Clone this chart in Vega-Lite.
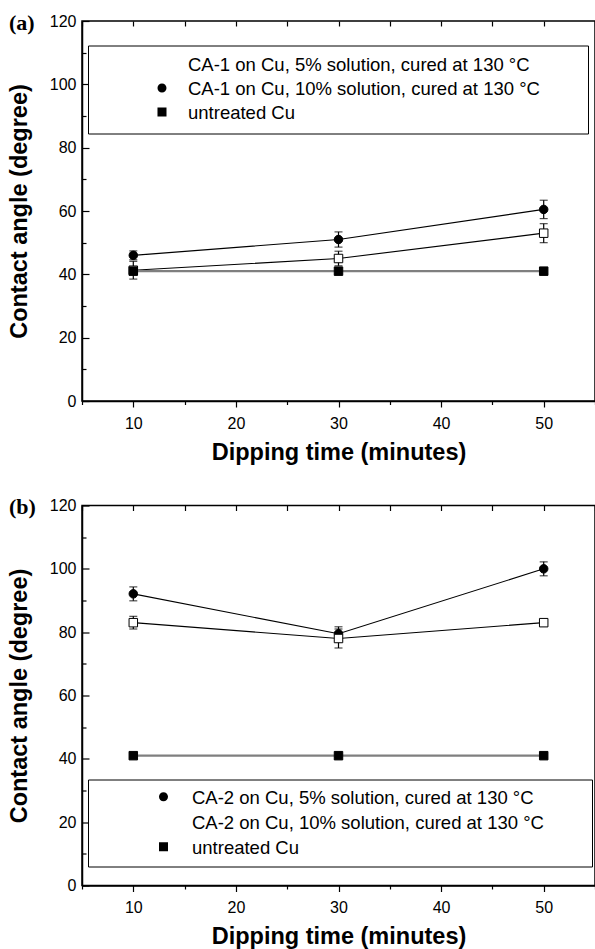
{
  "$schema": "https://vega.github.io/schema/vega-lite/v6.json",
  "background": "white",
  "padding": {"left": 6, "top": 11, "right": 0, "bottom": 0},
  "spacing": 29.5,
  "resolve": {"scale": {"shape": "independent", "fill": "independent", "x": "independent", "y": "independent"}, "legend": {"shape": "independent", "fill": "independent"}},
  "config": {
    "font": "Liberation Sans",
    "view": {"stroke": "black", "strokeWidth": 1.5},
    "axis": {"grid": false, "domainColor": "black", "domainWidth": 1.5, "tickColor": "black", "tickWidth": 1.2, "labelColor": "black", "labelFont": "Liberation Sans", "labelFontSize": 16, "titleColor": "black", "titleFont": "Liberation Sans", "titleFontSize": 23.5, "titleFontWeight": "bold", "labelFlush": false, "labelOverlap": false}
  },
  "vconcat": [
    {
      "title": {"text": "(a)", "anchor": "start", "frame": "group", "orient": "top", "offset": -23, "dx": -73, "dy": 16, "baseline": "alphabetic", "font": "Liberation Serif", "fontSize": 22, "fontWeight": "bold", "color": "black"},
      "width": 513,
      "height": 380,
      "data": {"values": [
        {"t": 10, "s": "CA-1 on Cu, 5% solution, cured at 130 °C", "y": 41.3, "e": 2.8},
        {"t": 30, "s": "CA-1 on Cu, 5% solution, cured at 130 °C", "y": 45.0, "e": 2.3},
        {"t": 50, "s": "CA-1 on Cu, 5% solution, cured at 130 °C", "y": 53.0, "e": 3.0},
        {"t": 10, "s": "CA-1 on Cu, 10% solution, cured at 130 °C", "y": 46.0, "e": 1.4},
        {"t": 30, "s": "CA-1 on Cu, 10% solution, cured at 130 °C", "y": 51.0, "e": 2.4},
        {"t": 50, "s": "CA-1 on Cu, 10% solution, cured at 130 °C", "y": 60.5, "e": 2.9},
        {"t": 10, "s": "untreated Cu", "y": 41.0, "e": 0.8},
        {"t": 30, "s": "untreated Cu", "y": 41.0, "e": 0.8},
        {"t": 50, "s": "untreated Cu", "y": 41.0, "e": 0.8}
      ]},
      "resolve": {"axis": {"x": "independent"}},
      "layer": [
        {
          "mark": {"type": "line"},
          "encoding": {
            "x": {"field": "t", "type": "quantitative", "scale": {"domain": [5, 55], "nice": false, "zero": false},
              "axis": {"orient": "bottom", "title": "Dipping time (minutes)", "values": [5, 10, 15, 20, 25, 30, 35, 40, 45, 50, 55], "labelExpr": "datum.value % 10 === 0 ? datum.label : ''", "tickSize": {"condition": {"test": "datum.value % 10 === 0", "value": 6}, "value": 3.5}, "labelPadding": 8, "titlePadding": 9}},
            "y": {"field": "y", "type": "quantitative", "scale": {"domain": [0, 120], "nice": false},
              "axis": {"title": "Contact angle (degree)", "values": [0, 10, 20, 30, 40, 50, 60, 70, 80, 90, 100, 110, 120], "labelExpr": "datum.value % 20 === 0 ? datum.label : ''", "tickSize": {"condition": {"test": "datum.value % 20 === 0", "value": -7}, "value": -4}, "labelPadding": 13, "titlePadding": 18}},
            "detail": {"field": "s", "type": "nominal"},
            "color": {"condition": {"test": "datum.s === 'untreated Cu'", "value": "#7f7f7f"}, "value": "black"},
            "strokeWidth": {"condition": {"test": "datum.s === 'untreated Cu'", "value": 2.2}, "value": 1.1}
          }
        },
        {
          "mark": {"type": "errorbar", "ticks": {"size": 8, "thickness": 1.2, "color": "black"}, "color": "black", "thickness": 1.2},
          "encoding": {
            "x": {"field": "t", "type": "quantitative", "axis": null},
            "y": {"field": "y", "type": "quantitative",
              "axis": {"title": "Contact angle (degree)", "values": [0, 10, 20, 30, 40, 50, 60, 70, 80, 90, 100, 110, 120], "labelExpr": "datum.value % 20 === 0 ? datum.label : ''", "tickSize": {"condition": {"test": "datum.value % 20 === 0", "value": -7}, "value": -4}, "labelPadding": 13, "titlePadding": 18}},
            "yError": {"field": "e"}
          }
        },
        {
          "mark": {"type": "point", "filled": true, "size": 72, "stroke": "black", "strokeWidth": 1, "opacity": 1},
          "encoding": {
            "x": {"field": "t", "type": "quantitative", "axis": {"orient": "top", "labels": false, "domain": false, "title": null, "values": [5, 10, 15, 20, 25, 30, 35, 40, 45, 50, 55], "tickSize": -5}},
            "y": {"field": "y", "type": "quantitative",
              "axis": {"title": "Contact angle (degree)", "values": [0, 10, 20, 30, 40, 50, 60, 70, 80, 90, 100, 110, 120], "labelExpr": "datum.value % 20 === 0 ? datum.label : ''", "tickSize": {"condition": {"test": "datum.value % 20 === 0", "value": -7}, "value": -4}, "labelPadding": 13, "titlePadding": 18}},
            "shape": {"condition": {"test": "datum.s === 'CA-1 on Cu, 10% solution, cured at 130 °C'", "value": "circle"}, "value": "square"},
            "fill": {"condition": {"test": "datum.s === 'CA-1 on Cu, 5% solution, cured at 130 °C'", "value": "white"}, "value": "black"}
          }
        },
        {
          "mark": {"type": "point", "filled": false, "opacity": 0, "color": "black", "stroke": "black", "strokeWidth": 1},
          "encoding": {
            "x": {"field": "t", "type": "quantitative", "axis": null},
            "y": {"field": "y", "type": "quantitative",
              "axis": {"title": "Contact angle (degree)", "values": [0, 10, 20, 30, 40, 50, 60, 70, 80, 90, 100, 110, 120], "labelExpr": "datum.value % 20 === 0 ? datum.label : ''", "tickSize": {"condition": {"test": "datum.value % 20 === 0", "value": -7}, "value": -4}, "labelPadding": 13, "titlePadding": 18}},
            "shape": {"field": "s", "type": "nominal",
              "scale": {"domain": ["CA-1 on Cu, 5% solution, cured at 130 °C", "CA-1 on Cu, 10% solution, cured at 130 °C", "untreated Cu"], "range": ["M0.023,-0.025H0.364M0.614,-0.025H0.932M0.386,-0.127H0.591V0.077H0.386Z", "M0.023,-0.025H0.364M0.614,-0.025H0.932M0.386,-0.025A0.102,0.102 0 1,0 0.591,-0.025A0.102,0.102 0 1,0 0.386,-0.025Z", "M0.023,-0.025H0.364M0.614,-0.025H0.932M0.386,-0.127H0.591V0.077H0.386Z"]},
              "legend": {"orient": "none", "legendX": 6, "legendY": 24.5, "title": " ", "titleOrient": "right", "titleFontSize": 1, "titlePadding": 40, "direction": "vertical", "strokeColor": "black", "fillColor": "white", "padding": 8, "symbolSize": 7744, "clipHeight": 23.3, "rowPadding": 0, "labelOffset": 3, "labelFontSize": 18.5, "labelFont": "Liberation Sans", "labelColor": "black", "labelLimit": 0, "symbolStrokeWidth": 1, "symbolStrokeColor": "black", "symbolOpacity": 1}},
            "fill": {"field": "s", "type": "nominal",
              "scale": {"domain": ["CA-1 on Cu, 5% solution, cured at 130 °C", "CA-1 on Cu, 10% solution, cured at 130 °C", "untreated Cu"], "range": ["white", "black", "black"]},
              "legend": {"orient": "none", "legendX": 6, "legendY": 24.5, "title": " ", "titleOrient": "right", "titleFontSize": 1, "titlePadding": 40, "direction": "vertical", "strokeColor": "black", "fillColor": "white", "padding": 8, "symbolSize": 7744, "clipHeight": 23.3, "rowPadding": 0, "labelOffset": 3, "labelFontSize": 18.5, "labelFont": "Liberation Sans", "labelColor": "black", "labelLimit": 0, "symbolStrokeWidth": 1, "symbolStrokeColor": "black", "symbolOpacity": 1}}
          }
        }
      ]
    },
    {
      "title": {"text": "(b)", "anchor": "start", "frame": "group", "orient": "top", "offset": -23, "dx": -73, "dy": 15, "baseline": "alphabetic", "font": "Liberation Serif", "fontSize": 22, "fontWeight": "bold", "color": "black"},
      "width": 513,
      "height": 380,
      "data": {"values": [
        {"t": 10, "s": "CA-2 on Cu, 5% solution, cured at 130 °C", "y": 92.1, "e": 2.2},
        {"t": 30, "s": "CA-2 on Cu, 5% solution, cured at 130 °C", "y": 79.5, "e": 2.2},
        {"t": 50, "s": "CA-2 on Cu, 5% solution, cured at 130 °C", "y": 100.0, "e": 2.2},
        {"t": 10, "s": "CA-2 on Cu, 10% solution, cured at 130 °C", "y": 83.0, "e": 2.0},
        {"t": 30, "s": "CA-2 on Cu, 10% solution, cured at 130 °C", "y": 78.0, "e": 3.0},
        {"t": 50, "s": "CA-2 on Cu, 10% solution, cured at 130 °C", "y": 83.0, "e": 1.0},
        {"t": 10, "s": "untreated Cu", "y": 41.0, "e": 0.6},
        {"t": 30, "s": "untreated Cu", "y": 41.0, "e": 0.6},
        {"t": 50, "s": "untreated Cu", "y": 41.0, "e": 0.6}
      ]},
      "resolve": {"axis": {"x": "independent"}},
      "layer": [
        {
          "mark": {"type": "line"},
          "encoding": {
            "x": {"field": "t", "type": "quantitative", "scale": {"domain": [5, 55], "nice": false, "zero": false},
              "axis": {"orient": "bottom", "title": "Dipping time (minutes)", "values": [5, 10, 15, 20, 25, 30, 35, 40, 45, 50, 55], "labelExpr": "datum.value % 10 === 0 ? datum.label : ''", "tickSize": {"condition": {"test": "datum.value % 10 === 0", "value": 6}, "value": 3.5}, "labelPadding": 8, "titlePadding": 9}},
            "y": {"field": "y", "type": "quantitative", "scale": {"domain": [0, 120], "nice": false},
              "axis": {"title": "Contact angle (degree)", "values": [0, 10, 20, 30, 40, 50, 60, 70, 80, 90, 100, 110, 120], "labelExpr": "datum.value % 20 === 0 ? datum.label : ''", "tickSize": {"condition": {"test": "datum.value % 20 === 0", "value": -7}, "value": -4}, "labelPadding": 13, "titlePadding": 18}},
            "detail": {"field": "s", "type": "nominal"},
            "color": {"condition": {"test": "datum.s === 'untreated Cu'", "value": "#7f7f7f"}, "value": "black"},
            "strokeWidth": {"condition": {"test": "datum.s === 'untreated Cu'", "value": 2.2}, "value": 1.1}
          }
        },
        {
          "mark": {"type": "errorbar", "ticks": {"size": 8, "thickness": 1.2, "color": "black"}, "color": "black", "thickness": 1.2},
          "encoding": {
            "x": {"field": "t", "type": "quantitative", "axis": null},
            "y": {"field": "y", "type": "quantitative",
              "axis": {"title": "Contact angle (degree)", "values": [0, 10, 20, 30, 40, 50, 60, 70, 80, 90, 100, 110, 120], "labelExpr": "datum.value % 20 === 0 ? datum.label : ''", "tickSize": {"condition": {"test": "datum.value % 20 === 0", "value": -7}, "value": -4}, "labelPadding": 13, "titlePadding": 18}},
            "yError": {"field": "e"}
          }
        },
        {
          "mark": {"type": "point", "filled": true, "size": 72, "stroke": "black", "strokeWidth": 1, "opacity": 1},
          "encoding": {
            "x": {"field": "t", "type": "quantitative", "axis": {"orient": "top", "labels": false, "domain": false, "title": null, "values": [5, 10, 15, 20, 25, 30, 35, 40, 45, 50, 55], "tickSize": -5}},
            "y": {"field": "y", "type": "quantitative",
              "axis": {"title": "Contact angle (degree)", "values": [0, 10, 20, 30, 40, 50, 60, 70, 80, 90, 100, 110, 120], "labelExpr": "datum.value % 20 === 0 ? datum.label : ''", "tickSize": {"condition": {"test": "datum.value % 20 === 0", "value": -7}, "value": -4}, "labelPadding": 13, "titlePadding": 18}},
            "shape": {"condition": {"test": "datum.s === 'CA-2 on Cu, 5% solution, cured at 130 °C'", "value": "circle"}, "value": "square"},
            "fill": {"condition": {"test": "datum.s === 'CA-2 on Cu, 10% solution, cured at 130 °C'", "value": "white"}, "value": "black"}
          }
        },
        {
          "mark": {"type": "point", "filled": false, "opacity": 0, "color": "black", "stroke": "black", "strokeWidth": 1},
          "encoding": {
            "x": {"field": "t", "type": "quantitative", "axis": null},
            "y": {"field": "y", "type": "quantitative",
              "axis": {"title": "Contact angle (degree)", "values": [0, 10, 20, 30, 40, 50, 60, 70, 80, 90, 100, 110, 120], "labelExpr": "datum.value % 20 === 0 ? datum.label : ''", "tickSize": {"condition": {"test": "datum.value % 20 === 0", "value": -7}, "value": -4}, "labelPadding": 13, "titlePadding": 18}},
            "shape": {"field": "s", "type": "nominal",
              "scale": {"domain": ["CA-2 on Cu, 5% solution, cured at 130 °C", "CA-2 on Cu, 10% solution, cured at 130 °C", "untreated Cu"], "range": ["M0.064,-0.023H0.34M0.596,-0.023H0.915M0.372,-0.023A0.096,0.096 0 1,0 0.564,-0.023A0.096,0.096 0 1,0 0.372,-0.023Z", "M0.064,-0.023H0.34M0.596,-0.023H0.915M0.372,-0.119H0.564V0.073H0.372Z", "M0.064,-0.023H0.34M0.596,-0.023H0.915M0.372,-0.119H0.564V0.073H0.372Z"]},
              "legend": {"orient": "none", "legendX": 6, "legendY": 274, "title": " ", "titleOrient": "right", "titleFontSize": 1, "titlePadding": 42, "direction": "vertical", "strokeColor": "black", "fillColor": "white", "padding": 6, "symbolSize": 8836, "clipHeight": 24.5, "rowPadding": 0, "labelOffset": 3, "labelFontSize": 18.5, "labelFont": "Liberation Sans", "labelColor": "black", "labelLimit": 0, "symbolStrokeWidth": 1, "symbolStrokeColor": "black", "symbolOpacity": 1}},
            "fill": {"field": "s", "type": "nominal",
              "scale": {"domain": ["CA-2 on Cu, 5% solution, cured at 130 °C", "CA-2 on Cu, 10% solution, cured at 130 °C", "untreated Cu"], "range": ["black", "white", "black"]},
              "legend": {"orient": "none", "legendX": 6, "legendY": 274, "title": " ", "titleOrient": "right", "titleFontSize": 1, "titlePadding": 42, "direction": "vertical", "strokeColor": "black", "fillColor": "white", "padding": 6, "symbolSize": 8836, "clipHeight": 24.5, "rowPadding": 0, "labelOffset": 3, "labelFontSize": 18.5, "labelFont": "Liberation Sans", "labelColor": "black", "labelLimit": 0, "symbolStrokeWidth": 1, "symbolStrokeColor": "black", "symbolOpacity": 1}}
          }
        }
      ]
    }
  ]
}
